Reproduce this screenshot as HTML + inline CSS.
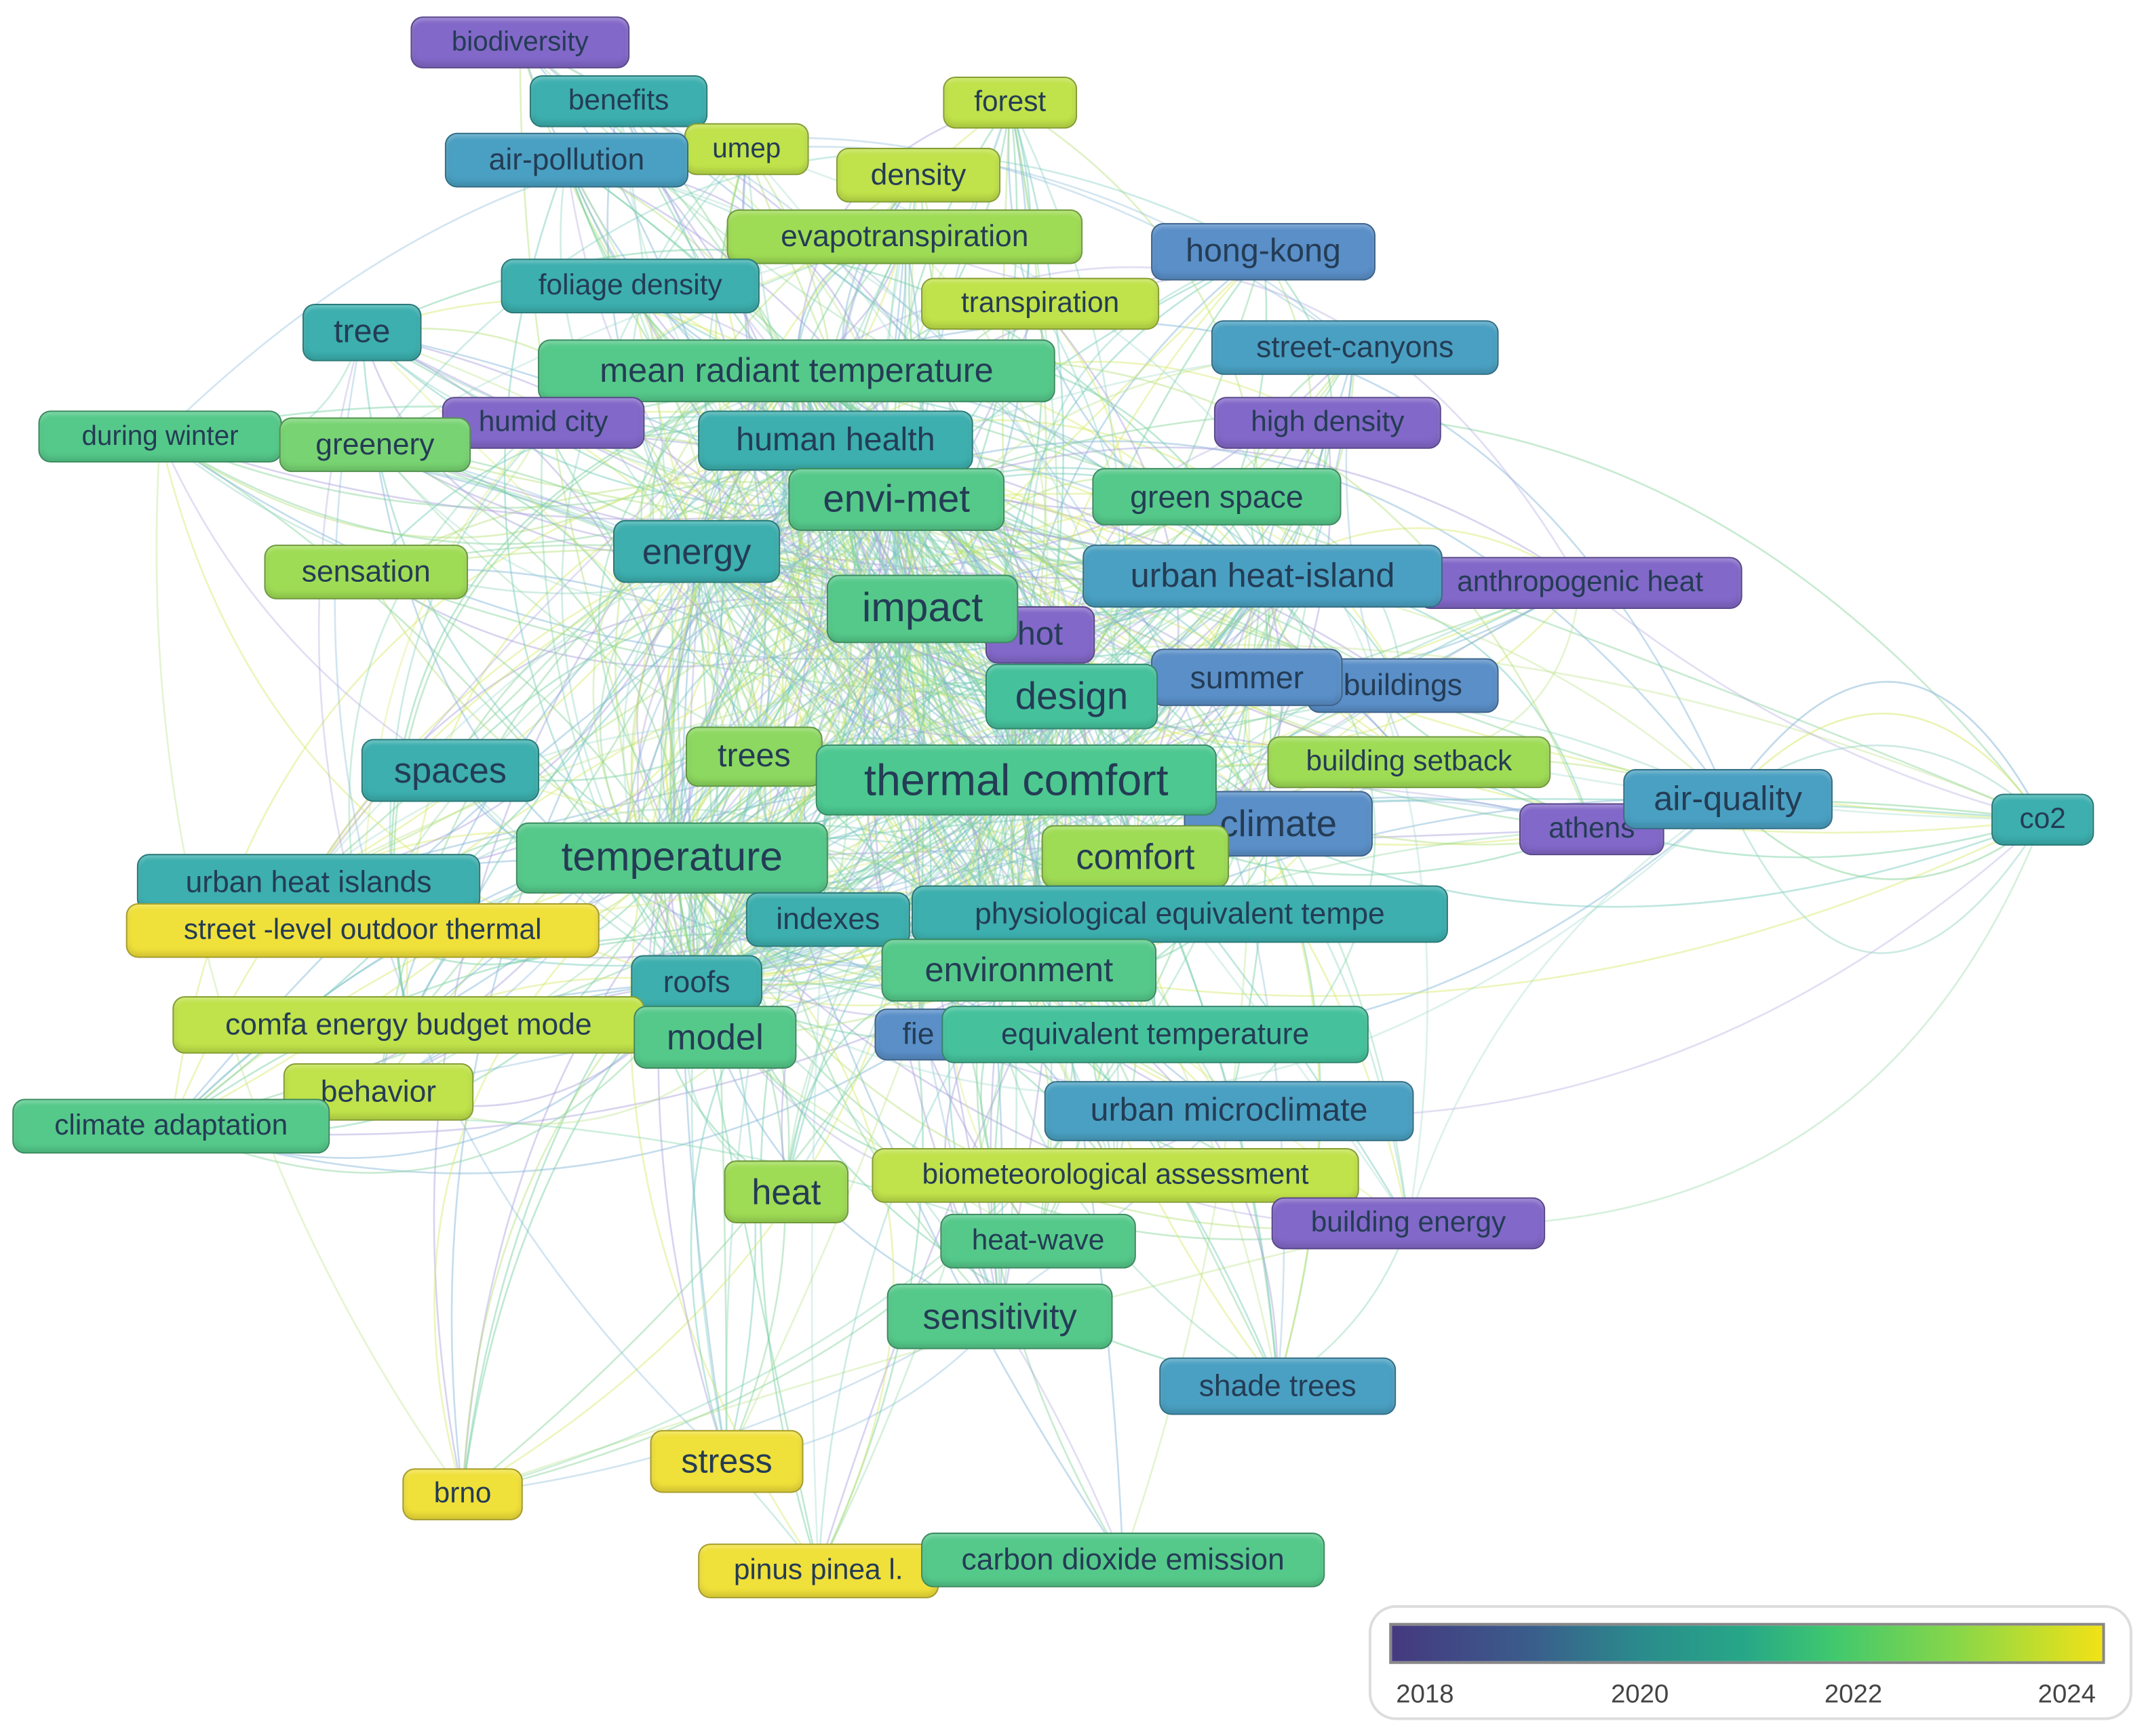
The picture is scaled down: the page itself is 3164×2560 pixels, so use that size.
<!DOCTYPE html>
<html><head><meta charset="utf-8"><style>
html,body{margin:0;padding:0;background:#fff;width:3164px;height:2560px;overflow:hidden}
#w{position:absolute;left:0;top:0;width:1568px;height:1268px;transform:scale(2.0179);transform-origin:0 0}
.n{position:absolute;box-sizing:border-box;border-radius:9px;border:1.5px solid rgba(0,0,0,.3);font-family:"Liberation Sans",sans-serif;color:#243c55;display:flex;align-items:center;justify-content:center;white-space:nowrap;overflow:hidden;box-shadow:inset 0 -3px 4px rgba(0,0,0,.12),inset 0 2px 3px rgba(255,255,255,.25)}
svg{position:absolute;left:0;top:0}
.lg{position:absolute;font-family:"Liberation Sans",sans-serif;font-size:19px;color:#444}
</style></head><body><div id="w">
<svg id="e" width="1568" height="1268"></svg>
<div id="nodes"></div>
<div style="position:absolute;left:1000px;top:1173px;width:558px;height:84px;border:2px solid #ddd;border-radius:20px;box-sizing:border-box"></div>
<div style="position:absolute;left:1015px;top:1186px;width:523px;height:30px;border:2px solid #888;box-sizing:border-box;background:linear-gradient(90deg,#45397f,#3a5e8c 20%,#2a8b8c 35%,#27a887 50%,#40c86e 62%,#8ad747 80%,#f2e216)"></div>
<div class="lg" style="left:1020px;top:1228px">2018</div>
<div class="lg" style="left:1177px;top:1228px">2020</div>
<div class="lg" style="left:1333px;top:1228px">2022</div>
<div class="lg" style="left:1489px;top:1228px">2024</div>
</div>
<script>
const P='#8268c8',B='#5a8fc8',T='#3cafae',TB='#4aa0c2',G='#55c98a',GT='#45c29c',L='#9fdc55',Y='#f0e03a',LG='#c0e24a';
const N=[
["biodiversity",300,12,160,38,P,20],["benefits",387,55,130,38,T,21],["forest",689,56,98,38,LG,21],["umep",500,90,91,38,LG,20],
["air-pollution",325,97,178,40,TB,22],["density",611,108,120,40,LG,22],["evapotranspiration",531,153,260,40,L,22],
["hong-kong",841,163,164,42,B,24],["foliage density",366,189,189,40,T,21],["transpiration",673,203,174,38,LG,21],
["tree",221,222,87,42,T,24],["street-canyons",885,234,210,40,TB,22],["mean radiant temperature",393,248,378,46,G,25],
["during winter",28,300,178,38,G,20],["humid city",323,290,148,38,P,21],["greenery",204,305,140,40,'#78d472',22],
["high density",887,290,166,38,P,21],["human health",510,300,201,44,T,24],["envi-met",576,342,158,46,G,28],
["green space",798,342,182,42,G,23],["energy",448,380,122,46,T,26],["sensation",193,398,149,40,L,22],
["hot",720,443,80,42,P,24],["anthropogenic heat",1036,407,237,38,P,21],["urban heat-island",791,398,263,46,TB,25],
["impact",604,420,140,50,G,30],["buildings",955,481,140,40,B,22],["summer",841,474,140,42,B,23],["design",720,485,126,48,GT,28],
["trees",501,531,100,44,'#8cd860',24],["spaces",264,540,130,46,T,26],["building setback",926,538,207,38,L,21],
["athens",1110,587,106,38,P,21],["climate",865,578,138,48,B,27],["air-quality",1186,562,153,44,TB,25],["co2",1455,580,75,38,T,21],
["thermal comfort",596,544,293,52,'#4cc890',32],["comfort",761,603,137,46,L,26],["temperature",377,601,228,52,G,30],
["urban heat islands",100,624,251,42,T,22],["street -level outdoor thermal",92,660,346,40,Y,21],["physiological equivalent tempe",666,647,392,42,T,22],
["indexes",545,652,120,40,T,22],["environment",644,686,201,46,G,25],["roofs",461,698,96,40,T,22],["comfa energy budget mode",126,728,345,42,LG,22],
["fie",639,737,64,38,B,22],["equivalent temperature",688,735,312,42,GT,22],["model",463,735,119,46,G,26],["behavior",207,777,139,42,LG,22],
["climate adaptation",9,803,232,40,G,21],["urban microclimate",763,790,270,44,TB,24],["biometeorological assessment",637,839,356,40,LG,21],
["heat",529,848,91,46,L,26],["building energy",929,875,200,38,P,21],["heat-wave",687,887,143,40,G,21],["sensitivity",648,938,165,48,G,26],
["shade trees",847,992,173,42,TB,22],["stress",475,1045,112,46,Y,25],["brno",294,1073,88,38,Y,21],
["pinus pinea l.",510,1128,176,40,Y,21],["carbon dioxide emission",673,1120,295,40,G,22]];
let h='';for(const n of N){h+=`<div class="n" style="left:${n[1]}px;top:${n[2]}px;width:${n[3]}px;height:${n[4]}px;background:${n[5]};font-size:${n[6]}px">${n[0]}</div>`;}
document.getElementById('nodes').innerHTML=h;
let s=7;function r(){s=(s*16807)%2147483647;return s/2147483647;}
const cols=['#6fc9b8','#86d39a','#9ad6c8','#b5e07a','#7fb4d6','#a9a0dc','#d8e86a','#70cfa0'];
const C=N.map(n=>[n[1]+n[3]/2,n[2]+n[4]/2]);
const hubs=[12,18,24,25,28,36,38,17,20,43,44];
let e='';
function curve(a,b,k,op){
 const dx=b[0]-a[0],dy=b[1]-a[1];const off=(r()-.5)*k;
 const mx=(a[0]+b[0])/2-dy*off,my=(a[1]+b[1])/2+dx*off;
 e+=`<path d="M${a[0]},${a[1]} Q${mx},${my} ${b[0]},${b[1]}" fill="none" stroke="${cols[Math.floor(r()*cols.length)]}" stroke-width="1.3" opacity="${op}"/>`;
}
for(let i=0;i<550;i++){curve(C[hubs[Math.floor(r()*hubs.length)]],C[Math.floor(r()*C.length)],0.9,0.45);}
for(let i=0;i<200;i++){
 const a=C[hubs[Math.floor(r()*hubs.length)]],b=C[hubs[Math.floor(r()*hubs.length)]];
 curve([a[0]+(r()-.5)*80,a[1]],[b[0]+(r()-.5)*80,b[1]],1.2,0.4);}
for(let i=0;i<120;i++){curve(C[Math.floor(r()*C.length)],C[Math.floor(r()*C.length)],1.0,0.35);}
for(let i=0;i<6;i++){curve(C[34],C[35],1.2+i*0.15,0.5);}
document.getElementById('e').innerHTML=e;
</script>
</body></html>
